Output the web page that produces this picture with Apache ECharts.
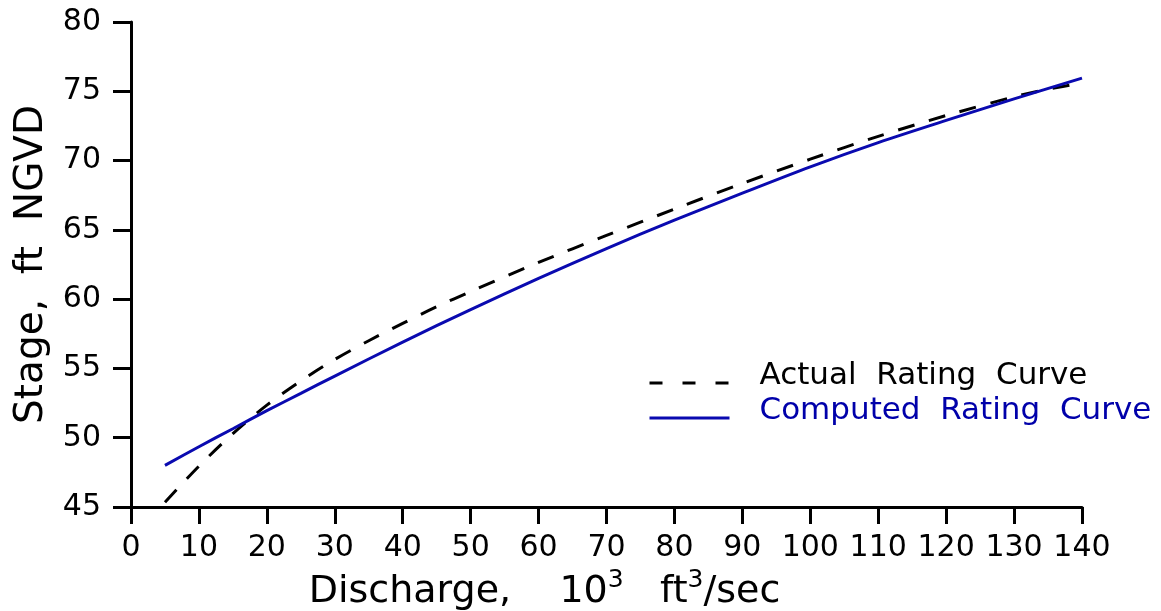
<!DOCTYPE html>
<html>
<head>
<meta charset="utf-8">
<script src="https://cdn.jsdelivr.net/npm/echarts@6/dist/echarts.min.js"></script>
<style>
html,body{margin:0;padding:0;background:#fff;}
#chart{width:1161px;height:611px;}
</style>
</head>
<body>
<div id="chart"></div>
<script>
// Discharge (10^3 ft^3/sec) and stage (ft NGVD)
const actualX = [5, 10, 15, 20, 25, 30, 35, 40, 45, 50, 60, 70, 80, 90, 100, 110, 120, 130, 135, 140];
const actualY = [45.35, 47.95, 50.3, 52.35, 54.1, 55.65, 57.0, 58.25, 59.45, 60.55, 62.65, 64.6, 66.5, 68.35, 70.1, 71.75, 73.25, 74.6, 75.15, 75.6];
const computedX = [5, 10, 15, 20, 25, 30, 40, 50, 60, 70, 80, 90, 100, 110, 120, 130, 140];
const computedY = [48.0, 49.35, 50.65, 51.95, 53.2, 54.45, 56.9, 59.25, 61.5, 63.65, 65.7, 67.65, 69.55, 71.3, 72.9, 74.45, 75.95];
const seriesNames = ['Actual  Rating  Curve', 'Computed  Rating  Curve'];

const FONT = 'DejaVu Sans';
const BLUE = '#0a0ab0';
const pair = (xs, ys) => xs.map((x, i) => [x, ys[i]]);

const chart = echarts.init(document.getElementById('chart'), null, {renderer: 'canvas'});
chart.setOption({
  animation: false,
  backgroundColor: '#ffffff',
  grid: {left: 131, right: 79, top: 22, bottom: 104, containLabel: false, outerBoundsMode: 'none'},
  xAxis: {
    type: 'value', min: 0, max: 140, interval: 10,
    axisLine: {show: true, onZero: false, lineStyle: {color: '#000', width: 3}},
    axisTick: {show: true, inside: false, length: 17, lineStyle: {color: '#000', width: 3}},
    splitLine: {show: false},
    axisLabel: {color: '#000', fontFamily: FONT, fontSize: 30, margin: 26},
    name: '{a|Discharge,    10}{s|3}{a|   ft}{s|3}{a|/sec}',
    nameLocation: 'middle', nameGap: 47,
    nameTextStyle: {
      padding: [0, 124, 0, 0],
      rich: {
        a: {fontFamily: FONT, fontSize: 38, color: '#000'},
        s: {fontFamily: FONT, fontSize: 25, color: '#000', verticalAlign: 'top', padding: [0, 0, 24, 0]}
      }
    }
  },
  yAxis: {
    type: 'value', min: 45, max: 80, interval: 5,
    axisLine: {show: true, onZero: false, lineStyle: {color: '#000', width: 3}},
    axisTick: {show: true, inside: false, length: 18, lineStyle: {color: '#000', width: 3}},
    splitLine: {show: false},
    axisLabel: {color: '#000', fontFamily: FONT, fontSize: 30, margin: 30},
    name: 'Stage,  ft  NGVD',
    nameLocation: 'middle', nameGap: 80, nameRotate: 90,
    nameTextStyle: {fontFamily: FONT, fontSize: 39, color: '#000'}
  },
  legend: {
    orient: 'vertical', left: 648, top: 360, padding: 0, itemWidth: 80, itemHeight: 4, itemGap: 4,
    itemStyle: {opacity: 0},
    formatter: function (name) { return '{t|' + name + '}{g| }'; },
    textStyle: {
      fontFamily: FONT, fontSize: 31, padding: [0, 0, 0, 25],
      rich: {
        t: {fontFamily: FONT, fontSize: 31, verticalAlign: 'top'},
        g: {fontSize: 4, height: 46, width: 1}
      }
    },
    data: [
      {name: seriesNames[0], textStyle: {color: '#000', rich: {t: {color: '#000', fontFamily: FONT, fontSize: 31, verticalAlign: 'top'}}}, lineStyle: {type: [13, 20], width: 3, color: '#000'}},
      {name: seriesNames[1], textStyle: {color: '#0000aa', rich: {t: {color: '#0000aa', fontFamily: FONT, fontSize: 31, verticalAlign: 'top'}}}, lineStyle: {width: 3, color: BLUE}}
    ]
  },
  series: [
    {
      name: seriesNames[0], type: 'line', data: pair(actualX, actualY),
      smooth: 0.3, symbol: 'none', showSymbol: false,
      lineStyle: {color: '#000', width: 3, type: [17, 15]}, itemStyle: {color: '#000'}
    },
    {
      name: seriesNames[1], type: 'line', data: pair(computedX, computedY),
      smooth: 0.3, symbol: 'none', showSymbol: false,
      lineStyle: {color: BLUE, width: 3, type: 'solid'}, itemStyle: {color: BLUE}
    }
  ]
});
</script>
</body>
</html>
